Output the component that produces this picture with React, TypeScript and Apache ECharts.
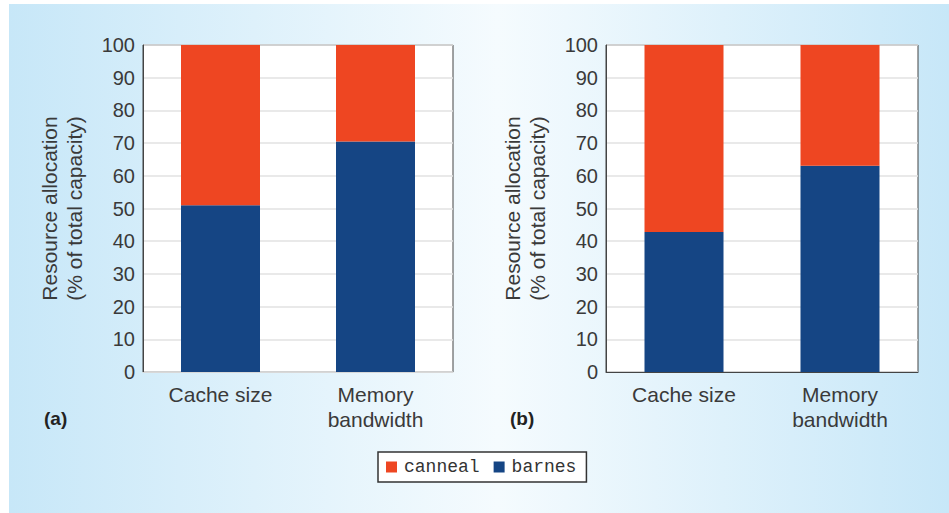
import React, { useEffect, useRef } from "react";
import * as echarts from "echarts";

const categories = ["Cache size", "Memory\nbandwidth"];
const barnesA = [51, 70.5];
const cannealA = [49, 29.5];
const barnesB = [42.8, 63.1];
const cannealB = [57.2, 36.9];
const yTicks = { min: 0, max: 100, interval: 10 };

const ORANGE = "#ee4622";
const BLUE = "#154584";
const FONT = "Liberation Sans";

export default function App() {
  const ref = useRef<HTMLDivElement>(null);
  useEffect(() => {
    const chart = echarts.init(ref.current!, undefined, { renderer: "svg" });
    const yAxisBase = (gi: number) => ({
      type: "value",
      gridIndex: gi,
      min: yTicks.min,
      max: yTicks.max,
      interval: yTicks.interval,
      name: "Resource allocation\n(% of total capacity)",
      nameLocation: "middle",
      nameGap: 56,
      nameTextStyle: { fontFamily: FONT, fontSize: 21, color: "#3a3a3a", lineHeight: 25 },
      axisLine: { show: true, lineStyle: { color: "#444", width: 1 } },
      axisTick: { show: false },
      axisLabel: { fontFamily: FONT, fontSize: 20, color: "#3a3a3a", margin: 8 },
      splitLine: { show: true, lineStyle: { color: "#e2e2e2", width: 1.5 } },
    });
    const xAxisBase = (gi: number, lineColor: string) => ({
      type: "category",
      gridIndex: gi,
      data: categories,
      axisLine: { show: true, lineStyle: { color: lineColor, width: 1 } },
      axisTick: { show: false },
      axisLabel: { fontFamily: FONT, fontSize: 21, color: "#3a3a3a", margin: 10, lineHeight: 25 },
    });
    const bar = (name: string, gi: number, stack: string, data: number[], color: string) => ({
      type: "bar",
      name,
      xAxisIndex: gi,
      yAxisIndex: gi,
      stack,
      data,
      barWidth: 79,
      itemStyle: { color },
    });
    chart.setOption({
      animation: false,
      grid: [
        { left: 143, top: 45, width: 310, height: 327, show: true, backgroundColor: "#fff", borderColor: "#444", borderWidth: 1 },
        { left: 606, top: 45, width: 312, height: 327, show: true, backgroundColor: "#fff", borderColor: "#444", borderWidth: 1 },
      ],
      xAxis: [xAxisBase(0, "#d8d8d8"), xAxisBase(1, "#444")],
      yAxis: [yAxisBase(0), yAxisBase(1)],
      legend: {
        data: ["canneal", "barnes"],
        left: 378,
        top: 452,
        orient: "horizontal",
        icon: "rect",
        itemWidth: 11,
        itemHeight: 11,
        itemGap: 14,
        padding: [6, 10, 6, 8],
        borderColor: "#333",
        borderWidth: 1.5,
        backgroundColor: "#fff",
        textStyle: { fontFamily: "Liberation Mono", fontSize: 18, color: "#333", padding: [0, 0, 0, 2] },
      },
      graphic: [
        { type: "text", left: 44, top: 409, style: { text: "(a)", fontFamily: FONT, fontWeight: "bold", fontSize: 19, fill: "#222" } },
        { type: "text", left: 510, top: 409, style: { text: "(b)", fontFamily: FONT, fontWeight: "bold", fontSize: 19, fill: "#222" } },
      ],
      series: [
        bar("barnes", 0, "a", barnesA, BLUE),
        bar("canneal", 0, "a", cannealA, ORANGE),
        bar("barnes", 1, "b", barnesB, BLUE),
        bar("canneal", 1, "b", cannealB, ORANGE),
      ],
    });
    return () => chart.dispose();
  }, []);
  return (
    <div style={{ position: "fixed", left: 0, top: 0, width: 949, height: 513, background: "#fff" }}>
      <div
        style={{
          position: "absolute",
          left: 9,
          top: 4,
          right: 0,
          bottom: 0,
          background: "linear-gradient(to right, #c7e7f8 0%, #f5fbfe 52%, #c7e7f8 100%)",
        }}
      />
      <div ref={ref} style={{ position: "absolute", left: 0, top: 0, width: 949, height: 513 }} />
    </div>
  );
}
